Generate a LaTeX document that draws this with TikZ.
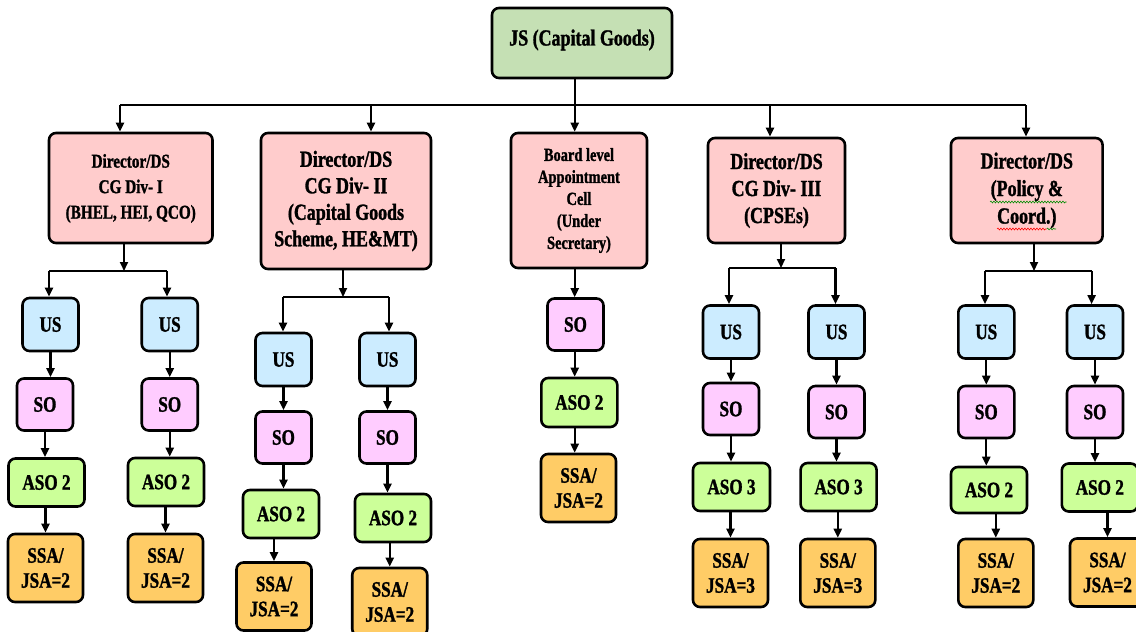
\documentclass[tikz,border=0pt]{standalone}
\usepackage{fontspec}
\setmainfont[FakeStretch=0.78, BoldFeatures={FakeBold=1.3}]{Liberation Serif}
\usetikzlibrary{arrows.meta,decorations.pathmorphing}

\definecolor{jsgreen}{HTML}{C5E0B4}
\definecolor{dirpink}{HTML}{FFCCCC}
\definecolor{usblue}{HTML}{CCECFF}
\definecolor{sopink}{HTML}{FFCCFF}
\definecolor{asogreen}{HTML}{CCFF99}
\definecolor{ssaorange}{HTML}{FFCC66}

\tikzset{
  orgbox/.style={draw=black, line width=2.6pt, rounded corners=7pt, align=center,
    inner sep=0pt, font=\bfseries\fontsize{22}{25}\selectfont},
  dirbox/.style={orgbox, fill=dirpink},
  usbox/.style={orgbox, fill=usblue, minimum width=56, minimum height=53},
  sobox/.style={orgbox, fill=sopink, minimum width=56, minimum height=52},
  asobox/.style={orgbox, fill=asogreen, minimum width=76, minimum height=48},
  ssabox/.style={orgbox, fill=ssaorange, minimum width=75, minimum height=68},
  ln/.style={line width=2.1pt},
  arr/.style={ln, -{Triangle[length=9pt,width=8pt]}},
  wavy/.style={line width=0.6pt, decorate,
    decoration={snake, amplitude=0.9pt, segment length=3pt}}
}

\begin{document}
\begin{tikzpicture}[x=1pt,y=-1pt]
\useasboundingbox (0,0) rectangle (1136,632);
\clip (0,0) rectangle (1136,632);

% top of the chart
\node[orgbox, fill=jsgreen, minimum width=180, minimum height=70,
  font=\bfseries\fontsize{23}{26}\selectfont] (js) at (582,43)
  {\raisebox{11pt}{JS (Capital Goods)}};

% directorates
\node[dirbox, minimum width=163.5, minimum height=110, font=\bfseries\fontsize{19.5}{25.5}\selectfont]
  (b1) at (130.75,188) {\raisebox{5pt}{\begin{tabular}{@{}c@{}}Director/DS\\CG Div- I\\(BHEL, HEI, QCO)\end{tabular}}};
\node[dirbox, minimum width=170, minimum height=136, font=\bfseries\fontsize{23}{26.5}\selectfont]
  (b2) at (346,201) {Director/DS\\CG Div- II\\(Capital Goods\\Scheme, HE\&MT)};
\node[dirbox, minimum width=136, minimum height=135, font=\bfseries\fontsize{18.5}{22}\selectfont]
  (b3) at (579,200.5) {Board level\\Appointment\\Cell\\(Under\\Secretary)};
\node[dirbox, minimum width=137, minimum height=105, font=\bfseries\fontsize{23}{27}\selectfont]
  (b4) at (776.5,190.5) {Director/DS\\CG Div- III\\(CPSEs)};
\node[dirbox, minimum width=151.6, minimum height=105, font=\bfseries\fontsize{23}{27.5}\selectfont]
  (b5) at (1026.8,190.5) {Director/DS\\(Policy \&\\Coord.)};

% spell-check marks under the policy box
\draw[wavy, green!55!black] (990,202) -- (1066.7,202);
\draw[wavy, red] (997,229) -- (1046.7,229);
\draw[wavy, green!55!black] (1046.7,229) -- (1056,229);

% CG Div- I
\node[usbox]  (us1)  at (50.5,324.5) {US};
\node[sobox]  (so1)  at (45,404.5) {SO};
\node[asobox] (aso1) at (46.5,482.5) {ASO 2};
\node[ssabox] (ssa1) at (45.5,568) {SSA/\\JSA=2};
\node[usbox]  (us2)  at (169.75,324.5) {US};
\node[sobox]  (so2)  at (169.75,404.5) {SO};
\node[asobox] (aso2) at (166,482) {ASO 2};
\node[ssabox] (ssa2) at (165.5,568) {SSA/\\JSA=2};

% CG Div- II
\node[usbox]  (us3)  at (283.5,359.5) {US};
\node[sobox]  (so3)  at (283.5,437.5) {SO};
\node[asobox] (aso3) at (281,514) {ASO 2};
\node[ssabox] (ssa3) at (274,596.5) {SSA/\\JSA=2};
\node[usbox]  (us4)  at (387.5,359.5) {US};
\node[sobox]  (so4)  at (387.5,437.5) {SO};
\node[asobox] (aso4) at (393,518) {ASO 2};
\node[ssabox] (ssa4) at (389.75,602) {SSA/\\JSA=2};

% Board level Appointment Cell
\node[sobox]  (so5)  at (575.5,324.5) {SO};
\node[asobox, minimum height=49] (aso5) at (579.3,402.5) {ASO 2};
\node[ssabox] (ssa5) at (578.5,488) {SSA/\\JSA=2};

% CG Div- III
\node[usbox]  (us6)  at (731,332) {US};
\node[sobox]  (so6)  at (731,409) {SO};
\node[asobox, minimum width=77] (aso6) at (731.5,487) {ASO 3};
\node[ssabox] (ssa6) at (730.5,573) {SSA/\\JSA=3};
\node[usbox]  (us7)  at (836.5,332) {US};
\node[sobox]  (so7)  at (836.5,412) {SO};
\node[asobox] (aso7) at (838.6,487) {ASO 3};
\node[ssabox] (ssa7) at (837.8,573) {SSA/\\JSA=3};

% Policy & Coord.
\node[usbox]  (us8)  at (986.3,332) {US};
\node[sobox]  (so8)  at (986.3,412) {SO};
\node[asobox, minimum height=46] (aso8) at (989,490) {ASO 2};
\node[ssabox] (ssa8) at (995.8,573) {SSA/\\JSA=2};
\node[usbox]  (us9)  at (1095,332) {US};
\node[sobox]  (so9)  at (1095,412) {SO};
\node[asobox] (aso9) at (1099.8,487.5) {ASO 2};
\node[ssabox] (ssa9) at (1107.5,572.5) {SSA/\\JSA=2};

% main distribution line
\coordinate (t1) at (120,105);
\coordinate (t2) at (371,105);
\coordinate (t3) at (574.7,105);
\coordinate (t4) at (770,105);
\coordinate (t5) at (1026,105);
\draw[ln] (t1) -- (t5);
\draw[arr] (t3 |- js.south) -- (t3 |- b3.north);
\draw[arr] (t1) -- (t1 |- b1.north);
\draw[arr] (t2) -- (t2 |- b2.north);
\draw[arr] (t4) -- (t4 |- b4.north);
\draw[arr] (t5) -- (t5 |- b5.north);

% branch lines below the directorates
\coordinate (k1) at (124,271);   \coordinate (k1a) at (49,271);   \coordinate (k1b) at (167,271);
\coordinate (k2) at (343,297);   \coordinate (k2a) at (283,297);  \coordinate (k2b) at (389,297);
\coordinate (k4) at (781,268);   \coordinate (k4a) at (729,268);  \coordinate (k4b) at (835.5,268);
\coordinate (k5) at (1034,271);  \coordinate (k5a) at (985,271);  \coordinate (k5b) at (1091.6,271);

\draw[arr] (k1 |- b1.south) -- (k1);
\draw[ln] (k1a) -- (k1b);
\draw[arr] (k1a) -- (k1a |- us1.north);
\draw[arr] (k1b) -- (k1b |- us2.north);

\draw[arr] (k2 |- b2.south) -- (k2);
\draw[ln] (k2a) -- (k2b);
\draw[arr] (k2a) -- (k2a |- us3.north);
\draw[arr] (k2b) -- (k2b |- us4.north);

\draw[arr] (t3 |- b3.south) -- (t3 |- so5.north);

\draw[arr] (k4 |- b4.south) -- (k4);
\draw[ln] (k4a) -- (k4b);
\draw[arr] (k4a) -- (k4a |- us6.north);
\draw[arr] (k4b) -- (k4b |- us7.north);

\draw[arr] (k5 |- b5.south) -- (k5);
\draw[ln] (k5a) -- (k5b);
\draw[arr] (k5a) -- (k5a |- us8.north);
\draw[arr] (k5b) -- (k5b |- us9.north);

% chains inside each section
\foreach \u/\s/\a/\z in {us1/so1/aso1/ssa1, us2/so2/aso2/ssa2, us3/so3/aso3/ssa3,
    us4/so4/aso4/ssa4, us6/so6/aso6/ssa6, us7/so7/aso7/ssa7, us8/so8/aso8/ssa8,
    us9/so9/aso9/ssa9}{
  \draw[arr] (\u.south) -- (\u.south |- \s.north);
  \draw[arr] (\s.south) -- (\s.south |- \a.north);
  \draw[arr] (\a.south -| \z.north) -- (\z.north);
}
\draw[arr] (t3 |- so5.south) -- (t3 |- aso5.north);
\draw[arr] (t3 |- aso5.south) -- (t3 |- ssa5.north);
\end{tikzpicture}
\end{document}
